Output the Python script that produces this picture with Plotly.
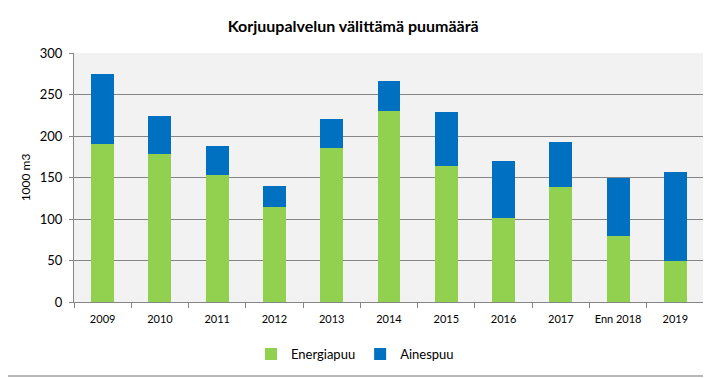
import plotly.graph_objects as go

categories = ["2009", "2010", "2011", "2012", "2013", "2014", "2015", "2016", "2017", "Enn 2018", "2019"]
energiapuu = [190, 178, 153, 114, 185, 230, 164, 101, 139, 80, 50]
ainespuu = [85, 46, 35, 26, 35, 36, 65, 69, 54, 70, 107]
y_ticks = [0, 50, 100, 150, 200, 250, 300]

font_family = "Lato, 'Open Sans', Arial, sans-serif"

fig = go.Figure()
fig.add_trace(go.Bar(x=categories, y=energiapuu, name="Energiapuu",
                     marker=dict(color="#92D050", line=dict(width=0)), width=0.4))
fig.add_trace(go.Bar(x=categories, y=ainespuu, name="Ainespuu",
                     marker=dict(color="#0070C0", line=dict(width=0)), width=0.4))

# page body has an 8px default margin, so the figure is sized to fit
fig.update_layout(
    barmode="stack",
    width=703, height=370,
    margin=dict(l=66, r=7, t=45, b=76),
    paper_bgcolor="white",
    plot_bgcolor="#F2F2F2",
    font=dict(family=font_family, color="#000000"),
    title=dict(text="<b>Korjuupalvelun välittämä puumäärä</b>", x=0.491, xanchor="center",
               y=0.949, yanchor="middle", font=dict(size=16, family=font_family)),
    legend=dict(orientation="h", x=0.446, xanchor="center", y=-0.209, yanchor="middle",
                font=dict(size=13), traceorder="normal", itemwidth=30),
    showlegend=True,
    shapes=[dict(type="line", xref="paper", yref="paper", x0=-0.2, x1=1.2,
                 y0=-0.297, y1=-0.297, line=dict(color="#A0A0A0", width=1.5))],
)
fig.update_xaxes(
    type="category", tickson="boundaries", ticks="outside", ticklen=5, tickcolor="#868686",
    showline=True, linecolor="#868686", linewidth=1, tickfont=dict(size=11),
    showgrid=False, ticklabelstandoff=7,
)
fig.update_yaxes(
    range=[0, 300], tickvals=y_ticks, ticks="outside", ticklen=4, tickcolor="#868686",
    showline=True, linecolor="#868686", linewidth=1, gridcolor="#868686", gridwidth=1,
    tickfont=dict(size=13), zeroline=False, ticklabelstandoff=4,
    title=dict(text="1000 m3", font=dict(size=12), standoff=6),
)

fig.write_html("out.html")
